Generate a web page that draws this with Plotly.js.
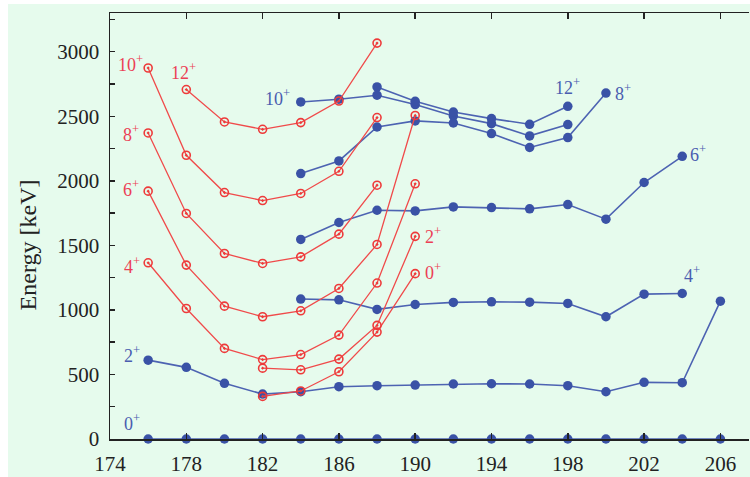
<!DOCTYPE html>
<html>
<head>
<meta charset="utf-8">
<script src="https://cdn.plot.ly/plotly-3.0.1.min.js"></script>
<style>
html,body{margin:0;padding:0;background:#ffffff;}
#chart{position:absolute;left:8px;top:4px;width:742px;height:473px;}
</style>
</head>
<body>
<div id="chart"></div>
<script>
// ---- data (mass number A vs excitation energy in keV) ----
// Blue (filled) bands
const blue0_A = [176,178,180,182,184,186,188,190,192,194,196,198,200,202,204,206];
const blue0_E = [0,0,0,0,0,0,0,0,0,0,0,0,0,0,0,0];
const blue2_A = [176,178,180,182,184,186,188,190,192,194,196,198,200,202,204,206];
const blue2_E = [611,555,431,348,366,405,413,418,426,428,426,413,366,439,436,1068];
const blue4_A = [184,186,188,190,192,194,196,198,200,202,204];
const blue4_E = [1084,1078,1004,1042,1058,1063,1060,1050,947,1122,1127];
const blue6_A = [184,186,188,190,192,194,196,198,200,202,204];
const blue6_E = [1546,1677,1772,1767,1798,1793,1783,1816,1703,1987,2190];
const blue8_A = [184,186,188,190,192,194,196,198,200];
const blue8_E = [2056,2154,2417,2464,2448,2366,2258,2335,2680];
const blue10_A = [184,186,188,190,192,194,196,198];
const blue10_E = [2611,2632,2663,2591,2502,2443,2348,2436];
const blue12_A = [188,190,192,194,196,198];
const blue12_E = [2727,2616,2533,2482,2438,2577];

// Red (open) bands
const red0_A = [182,184,186,188,190];
const red0_E = [330,372,521,828,1281];
const red2_A = [182,184,186,188,190];
const red2_E = [549,536,619,880,1570];
const red4_A = [176,178,180,182,184,186,188,190];
const red4_E = [1365,1011,702,615,654,805,1208,1977];
const red6_A = [176,178,180,182,184,186,188,190];
const red6_E = [1920,1347,1029,947,993,1166,1507,2506];
const red8_A = [176,178,180,182,184,186,188];
const red8_E = [2371,1747,1437,1360,1411,1587,1966];
const red10_A = [176,178,180,182,184,186,188];
const red10_E = [2874,2198,1909,1847,1902,2074,2490];
const red12_A = [178,180,182,184,186,188];
const red12_E = [2707,2456,2399,2451,2618,3067];

// Axis ticks
const xTicks = [174,178,182,186,190,194,198,202,206];
const yTickVals = [0,250,500,750,1000,1250,1500,1750,2000,2250,2500,2750,3000,3250];
const yTickText = ['0','','500','','1000','','1500','','2000','','2500','','3000',''];

// Spin labels
const labelText = ['10<sup>+</sup>','12<sup>+</sup>','8<sup>+</sup>','6<sup>+</sup>','4<sup>+</sup>','2<sup>+</sup>','0<sup>+</sup>',
                   '10<sup>+</sup>','12<sup>+</sup>','8<sup>+</sup>','6<sup>+</sup>','4<sup>+</sup>','2<sup>+</sup>','0<sup>+</sup>'];
const labelA = [175.05,177.85,175.1,175.1,175.15,190.95,190.95, 182.8,198.0,200.9,204.8,204.5,175.15,175.15];
const labelE = [2905,2850,2365,1940,1345,1575,1300, 2645,2730,2685,2210,1275,655,130];
const labelSide = ['r','r','r','r','r','r','r','b','b','b','b','b','b','b'];

const yTitle = 'Energy [keV]';

const BLUE = '#3a52a6';
const BLUE_LINE = '#4d63b2';
const RED = '#ee3a3a';
const RED_LINE = '#f04a4a';
const LABEL_RED = '#ec3f55';
const LABEL_BLUE = '#4a5db0';

function blueTrace(x, y){
  return {x:x, y:y, type:'scatter', mode:'lines+markers', cliponaxis:false,
    line:{color:BLUE_LINE, width:1.6},
    marker:{color:BLUE, size:9.5, symbol:'circle', line:{width:0}},
    hoverinfo:'skip', showlegend:false};
}
function redTrace(x, y){
  return {x:x, y:y, type:'scatter', mode:'lines+markers', cliponaxis:false,
    line:{color:RED_LINE, width:1.3},
    marker:{color:RED, size:8, symbol:'circle-open-dot', line:{width:1.6, color:RED}},
    hoverinfo:'skip', showlegend:false};
}

const data = [
  blueTrace(blue0_A, blue0_E), blueTrace(blue2_A, blue2_E), blueTrace(blue4_A, blue4_E),
  blueTrace(blue6_A, blue6_E), blueTrace(blue8_A, blue8_E), blueTrace(blue10_A, blue10_E),
  blueTrace(blue12_A, blue12_E),
  redTrace(red0_A, red0_E), redTrace(red2_A, red2_E), redTrace(red4_A, red4_E),
  redTrace(red6_A, red6_E), redTrace(red8_A, red8_E), redTrace(red10_A, red10_E),
  redTrace(red12_A, red12_E)
];

const serif = 'Liberation Serif, DejaVu Serif, serif';

const annotations = labelText.map((t, i) => ({
  x: labelA[i], y: labelE[i], xref:'x', yref:'y', text: t, showarrow:false,
  xanchor:'center', yanchor:'middle',
  font:{family:serif, size:18,
        color: labelSide[i] === 'r' ? LABEL_RED : LABEL_BLUE}
}));
// y-axis title drawn as a rotated annotation so it can sit slightly below centre
annotations.push({
  x:-0.128, y:0.455, xref:'paper', yref:'paper', text:yTitle, showarrow:false,
  textangle:-90, xanchor:'center', yanchor:'middle',
  font:{family:serif, size:24, color:'#222'}
});

const layout = {
  width:742, height:473,
  margin:{l:102, r:1, t:9, b:38, pad:0},
  paper_bgcolor:'#e6fbed', plot_bgcolor:'#e6fbed',
  showlegend:false,
  font:{family:serif, size:21, color:'#222222'},
  xaxis:{range:[174,207.5], tickvals:xTicks, ticktext:xTicks.map(String),
    ticks:'inside', ticklen:6, tickwidth:1.5, tickcolor:'#222',
    showline:true, linecolor:'#222', linewidth:1.5, mirror:'ticks',
    showgrid:false, zeroline:false, ticklabelstandoff:5,
    tickfont:{family:serif, size:21, color:'#222'}},
  yaxis:{range:[0,3300], tickvals:yTickVals, ticktext:yTickText,
    ticks:'inside', ticklen:5, tickwidth:1.5, tickcolor:'#222',
    showline:true, linecolor:'#222', linewidth:1.5, mirror:false,
    showgrid:false, zeroline:false, ticklabelstandoff:5,
    tickfont:{family:serif, size:21, color:'#222'}},
  annotations: annotations
};

Plotly.newPlot('chart', data, layout, {displayModeBar:false, staticPlot:true});
</script>
</body>
</html>
